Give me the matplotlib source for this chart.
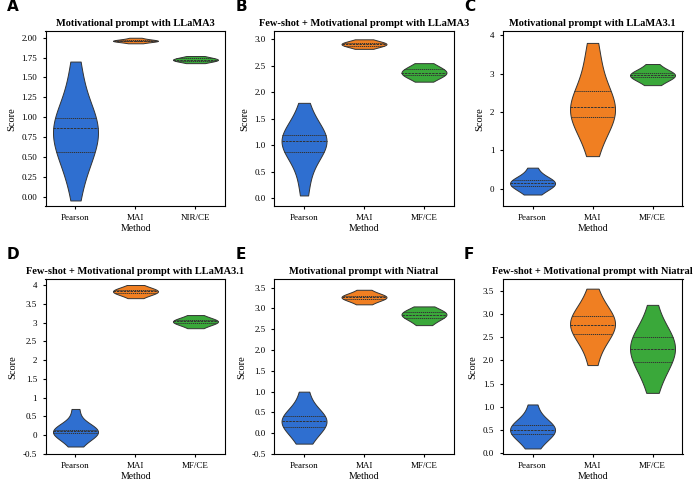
import matplotlib
matplotlib.use("Agg")
import matplotlib.pyplot as plt
import seaborn as sns
import pandas as pd

titles = ["Motivational prompt with LLaMA3", "Few-shot + Motivational prompt with LLaMA3",
          "Motivational prompt with LLaMA3.1", "Few-shot + Motivational prompt with LLaMA3.1",
          "Motivational prompt with Niatral", "Few-shot + Motivational prompt with Niatral"]
letters = ["A", "B", "C", "D", "E", "F"]
cats = [["Pearson", "MAI", "NIR/CE"]] + [["Pearson", "MAI", "MF/CE"]] * 5

A_p = [-0.05,0.2,0.4,0.5,0.55,0.6,0.65,0.75,0.85,0.88,0.9,0.92,0.95,1.0,1.1,1.3,1.5,1.7]
A_m = [1.93,1.95,1.955,1.96,1.96,1.965,1.97,1.98,2.0]
A_n = [1.68,1.70,1.71,1.72,1.72,1.73,1.74,1.75,1.77]
B_p = [0.05,0.4,0.7,0.85,0.95,1.0,1.05,1.1,1.12,1.15,1.2,1.3,1.5,1.8]
B_m = [2.82,2.86,2.88,2.9,2.91,2.92,2.94,2.96,3.0]
B_f = [2.2,2.28,2.32,2.35,2.37,2.4,2.43,2.48,2.55]
C_p = [-0.15,0.0,0.08,0.12,0.15,0.18,0.22,0.3,0.55]
C_m = [0.85,1.4,1.7,1.85,1.9,2.0,2.1,2.15,2.2,2.35,2.6,3.0,3.4,3.8]
C_f = [2.7,2.82,2.9,2.94,2.96,2.98,3.02,3.1,3.25]
D_p = [-0.3,-0.05,0.05,0.08,0.1,0.12,0.15,0.25,0.7]
D_m = [3.65,3.74,3.78,3.81,3.83,3.85,3.88,3.92,4.0]
D_f = [2.85,2.95,2.99,3.02,3.04,3.06,3.1,3.2]
E_p = [-0.25,0.05,0.15,0.25,0.3,0.35,0.42,0.55,1.0]
E_m = [3.1,3.2,3.24,3.27,3.28,3.3,3.34,3.45]
E_f = [2.6,2.72,2.8,2.84,2.86,2.9,2.94,3.05]
F_p = [0.1,0.35,0.42,0.48,0.5,0.55,0.6,0.7,1.05]
F_m = [1.9,2.3,2.5,2.6,2.7,2.75,2.8,2.9,2.95,3.0,3.2,3.55]
F_f = [1.3,1.7,1.9,2.0,2.1,2.2,2.3,2.4,2.5,2.55,2.7,3.2]
panels = [(A_p, A_m, A_n), (B_p, B_m, B_f), (C_p, C_m, C_f),
          (D_p, D_m, D_f), (E_p, E_m, E_f), (F_p, F_m, F_f)]

yticks = [[0,0.25,0.5,0.75,1,1.25,1.5,1.75,2.0], [0,0.5,1,1.5,2,2.5,3],
          [0,1,2,3,4], [-0.5,0,0.5,1,1.5,2,2.5,3,3.5,4],
          [-0.5,0,0.5,1,1.5,2,2.5,3,3.5], [0,0.5,1,1.5,2,2.5,3,3.5]]
ylabels = [["0.00","0.25","0.50","0.75","1.00","1.25","1.50","1.75","2.00"],
           ["0.0","0.5","1.0","1.5","2.0","2.5","3.0"],
           ["0","1","2","3","4"],
           ["-0.5","0","0.5","1","1.5","2","2.5","3","3.5","4"],
           ["-0.5","0.0","0.5","1.0","1.5","2.0","2.5","3.0","3.5"],
           ["0.0","0.5","1.0","1.5","2.0","2.5","3.0","3.5"]]
ylims = [(-0.12, 2.08), (-0.15, 3.15), (-0.45, 4.1), (-0.5, 4.15), (-0.5, 3.7), (-0.02, 3.75)]

colors = ["#2f6fd0", "#f07f22", "#3aa83a"]
plt.rcParams['font.family'] = ['Liberation Serif', 'DejaVu Serif']

fig, axes = plt.subplots(2, 3, figsize=(7, 4.83), dpi=100)
fig.subplots_adjust(left=0.065, right=0.975, top=0.935, bottom=0.06, hspace=0.42, wspace=0.27)
for i, ax in enumerate(axes.flat):
    rows = []
    for c, vals in zip(cats[i], panels[i]):
        rows += [(c, v) for v in vals]
    df = pd.DataFrame(rows, columns=["Method", "Score"])
    sns.violinplot(data=df, x="Method", y="Score", hue="Method", palette=colors, order=cats[i],
                   inner="quart", cut=0, linewidth=0.7, linecolor="#333333", ax=ax,
                   legend=False, width=0.75, saturation=1, bw_adjust=1.2)
    ax.set_title(titles[i], fontsize=7.5, fontweight="bold", pad=4)
    ax.set_ylim(*ylims[i])
    ax.set_yticks(yticks[i])
    ax.set_yticklabels(ylabels[i])
    ax.tick_params(labelsize=6.5, length=2.5)
    ax.set_xlabel("Method", fontsize=7, labelpad=1)
    ax.set_ylabel("Score", fontsize=7.5)
    pos = ax.get_position()
    fig.text(pos.x0 - 0.055, pos.y1 + 0.035, letters[i], fontsize=11,
             fontweight="bold", family="DejaVu Sans", va="bottom")
fig.savefig("out.png", dpi=100)
